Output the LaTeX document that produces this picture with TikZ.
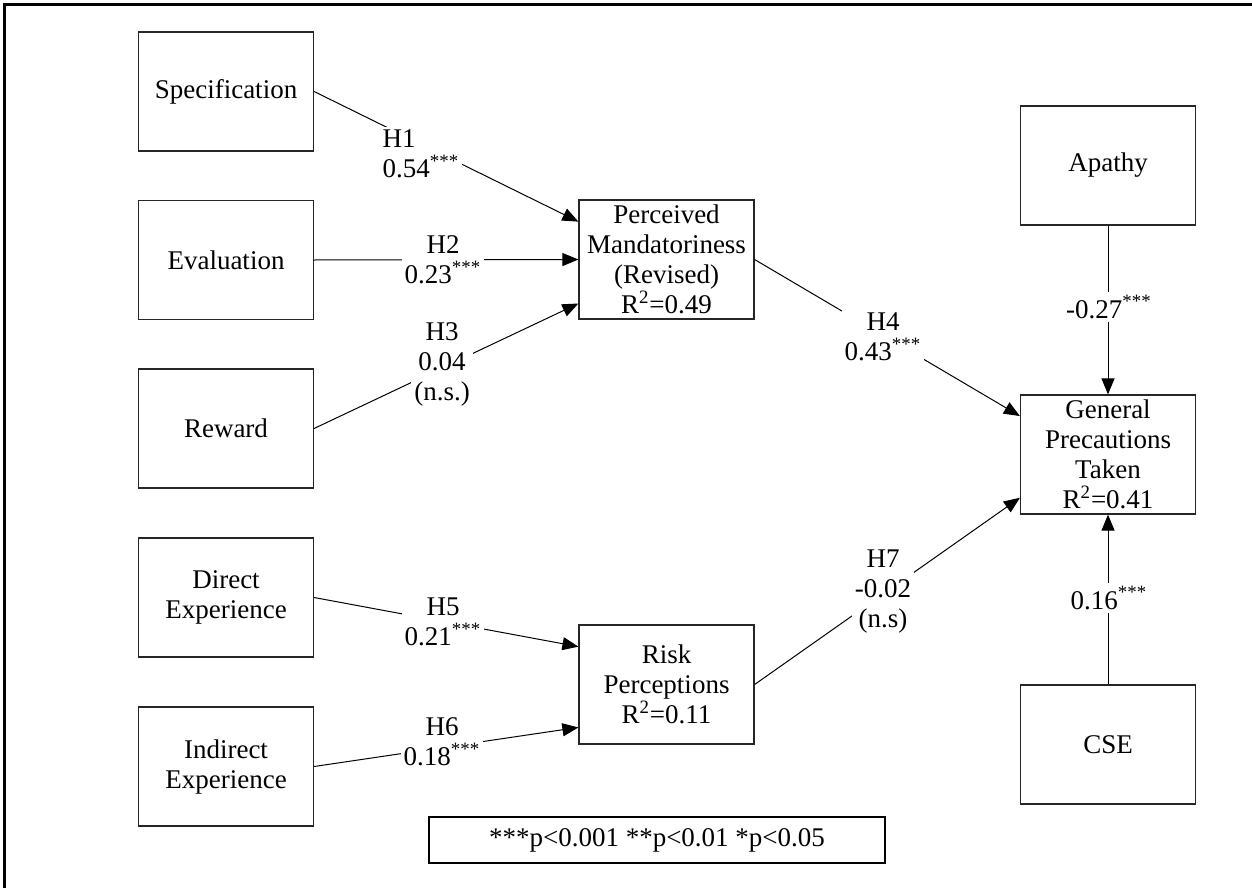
\documentclass[tikz,border=0pt]{standalone}
\usepackage{fontspec}
\setmainfont{Liberation Serif}
\usetikzlibrary{arrows.meta,calc}

\begin{document}
\begin{tikzpicture}[x=0.5pt,y=-0.5pt,
  txt/.style={font=\fontsize{13.5}{15}\selectfont},
  var/.style={txt, draw=black!85, line width=0.6pt, minimum width=87.5pt,
    minimum height=59.5pt, inner sep=0pt, align=center},
  lbl/.style={txt, fill=white, inner sep=1.5pt, align=center},
  link/.style={line width=0.5pt, -{Triangle[length=8pt,width=6.5pt]}},
  plain/.style={line width=0.5pt},
]
\useasboundingbox (0,0) rectangle (1252,888);

% outer frame (top and left edges)
\draw[line width=1.5pt] (4,888) -- (4,4.5) -- (1252,4.5);

% antecedents
\node[var] (spec)     at (226,91.5)  {Specification};
\node[var] (eval)     at (226,260)   {Evaluation};
\node[var] (reward)   at (226,428.5) {Reward};
\node[var] (direct)   at (226,597.5) {Direct\\Experience};
\node[var] (indirect) at (226,766.5) {Indirect\\Experience};

% mediators
\node[var] (pm) at (666.5,259.5) {Perceived\\Mandatoriness\\(Revised)\\R\textsuperscript{2}=0.49};
\node[var] (rp) at (666.5,684.5) {Risk\\Perceptions\\R\textsuperscript{2}=0.11};

% outcome and controls
\node[var] (apathy) at (1108,165.5) {Apathy};
\node[var] (gp)     at (1108,454.5) {General\\Precautions\\Taken\\R\textsuperscript{2}=0.41};
\node[var] (cse)    at (1108,744.5) {CSE};

% legend
\node[txt, draw, line width=1pt, minimum width=228pt, minimum height=23pt, inner sep=0pt]
  (legend) at (657,840) {***p<0.001 **p<0.01 *p<0.05};

% paths
\draw[link] (spec.east)     -- ($(pm.north west)!0.185!(pm.south west)$);
\draw[link] (eval.east)     -- (pm.west);
\draw[link] (reward.east)   -- ($(pm.north west)!0.866!(pm.south west)$);
\draw[link] (direct.east)   -- ($(rp.north west)!0.185!(rp.south west)$);
\draw[link] (indirect.east) -- ($(rp.north west)!0.857!(rp.south west)$);
\draw[link] (pm.east)       -- ($(gp.north west)!0.18!(gp.south west)$);
\draw[link] (rp.east)       -- ($(gp.north west)!0.86!(gp.south west)$);
\draw[link] (apathy.south)  -- (gp.north);
\draw[link] (cse.north)     -- (gp.south);

% path coefficients
\node[lbl, align=left] (l1) at (421,154) {H1\\0.54\textsuperscript{***}};
\node[lbl] (l2) at (443,260) {H2\\0.23\textsuperscript{***}};
\node[lbl] (l3) at (442,364) {H3\\0.04\\(n.s.)};
\node[lbl] (l4) at (883,337) {H4\\0.43\textsuperscript{***}};
\node[lbl] (l5) at (443,622) {H5\\0.21\textsuperscript{***}};
\node[lbl] (l6) at (442,742) {H6\\0.18\textsuperscript{***}};
\node[lbl] (l7) at (883,592) {H7\\-0.02\\(n.s)};
\node[lbl] (la) at (1109,307) {-0.27\textsuperscript{***}};
\node[lbl] (lc) at (1109,598) {0.16\textsuperscript{***}};
\end{tikzpicture}
\end{document}
